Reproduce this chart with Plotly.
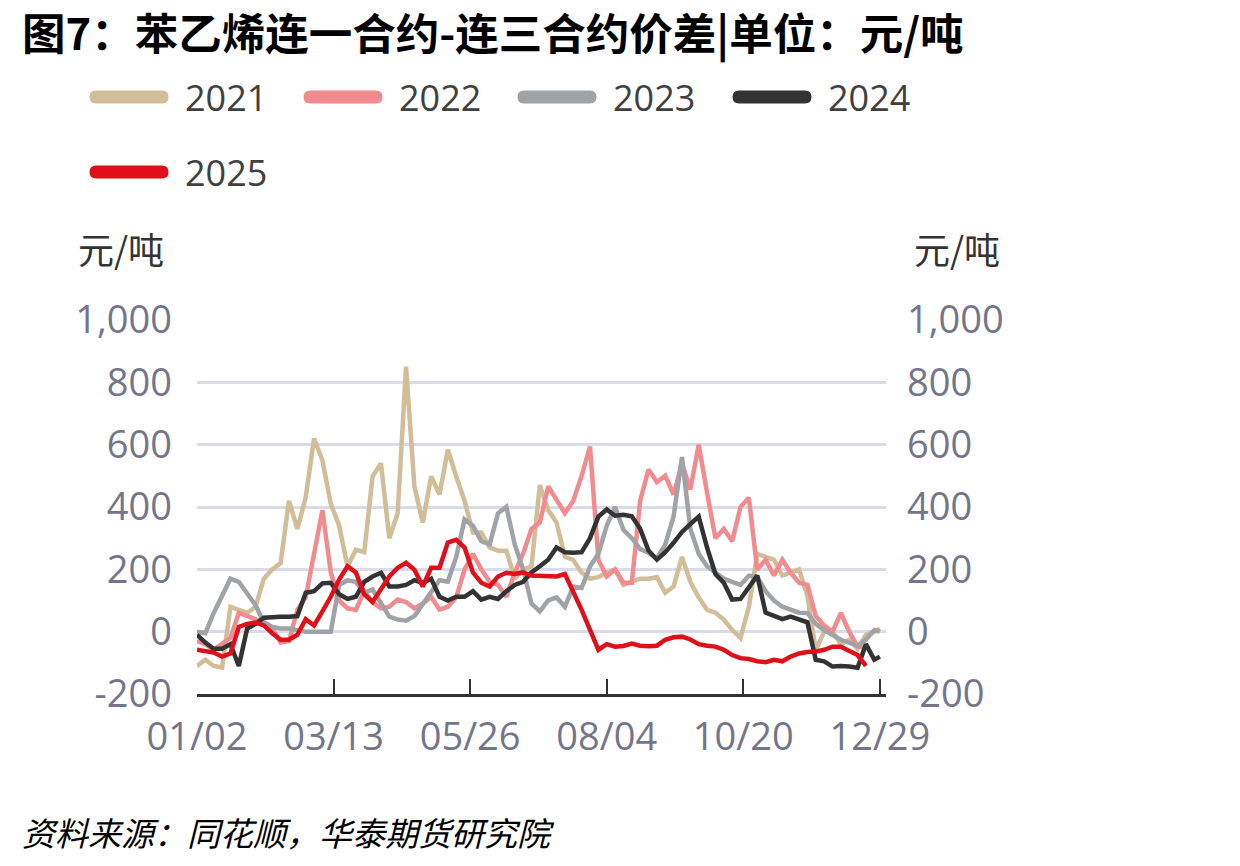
import plotly.graph_objects as go

# ---------------- data (trading-day index, value in 元/吨) ----------------
x_idx = list(range(0, 244, 3)) + [245]

tick_pos = [0, 49, 98, 147, 196, 245]
tick_text = ["01/02", "03/13", "05/26", "08/04", "10/20", "12/29"]

y_ticks = [-200, 0, 200, 400, 600, 800, 1000]
y_tick_text = ["-200", "0", "200", "400", "600", "800", "1,000"]

s2021 = [-110, -90, -110, -115, 80, 70, 60, 80, 170, 200,
         220, 420, 330, 430, 620, 550, 410, 340, 209, 263,
         255, 498, 540, 300, 380, 850, 466, 350, 498, 440,
         584, 498, 420, 318, 318, 270, 260, 260, 170, 200,
         209, 470, 390, 350, 240, 230, 189, 170, 175, 189,
         199, 150, 160, 170, 170, 175, 125, 145, 240, 160,
         110, 70, 61, 39, 6, -20, 80, 250, 240, 231,
         180, 190, 200, 115, -60, 0, 0, -40, -26, -55,
         -10, 0, 10]

s2022 = [-30, -40, -58, -40, -20, 60, 50, 39, 30, 10,
         -35, -30, 70, 110, 250, 390, 190, 100, 75, 70,
         130, 95, 75, 80, 103, 95, 75, 90, 112, 71,
         80, 110, 199, 250, 200, 160, 150, 112, 190, 250,
         330, 350, 466, 420, 380, 420, 500, 594, 231, 177,
         200, 157, 157, 420, 520, 480, 500, 440, 540, 456,
         600, 446, 300, 330, 290, 400, 430, 199, 231, 180,
         231, 189, 157, 150, 50, 20, 0, 60, 0, -48,
         -50, None, None]

s2023 = [0, -5, 60, 115, 170, 160, 120, 85, 30, 15,
         10, 10, 5, 0, 0, 0, 0, 150, 165, 160,
         125, 135, 90, 48, 39, 35, 50, 90, 125, 165,
         160, 240, 360, 340, 290, 280, 380, 400, 280, 200,
         90, 65, 100, 110, 80, 145, 140, 209, 250, 340,
         400, 327, 300, 265, 253, 235, 280, 370, 560, 330,
         250, 210, 190, 170, 160, 150, 180, 175, 130, 100,
         80, 70, 61, 60, 25, 5, -10, -26, -35, -45,
         -25, 5, 0]

s2024 = [-10, -35, -55, -55, -40, -110, 10, 25, 45, 48,
         48, 48, 50, 125, 130, 155, 157, 120, 105, 112,
         160, 177, 189, 145, 145, 150, 165, 157, 170, 112,
         100, 112, 112, 130, 103, 112, 105, 130, 150, 160,
         190, 210, 231, 270, 255, 253, 255, 300, 369, 392,
         372, 375, 370, 330, 260, 231, 255, 285, 320, 345,
         369, 270, 185, 157, 103, 105, 140, 180, 61, 50,
         40, 48, 39, 30, -90, -95, -112, -110, -112, -116,
         -40, -90, -80]

s2025 = [-58, -62, -67, -80, -70, 15, 25, 29, 20, -5,
         -26, -26, -10, 40, 20, 65, 112, 167, 210, 190,
         120, 95, 135, 177, 205, 221, 199, 145, 205, 205,
         286, 295, 270, 190, 157, 145, 177, 189, 185, 190,
         180, 178, 178, 177, 185, 130, 70, 6, -58, -40,
         -48, -46, -38, -45, -47, -45, -26, -18, -16, -25,
         -40, -45, -48, -58, -75, -85, -88, -95, -98, -90,
         -95, -80, -70, -65, -64, -58, -48, -48, -60, -75,
         -110, None, None]

names = ["2021", "2022", "2023", "2024", "2025"]
series = [s2021, s2022, s2023, s2024, s2025]
colors = ["#d1bd97", "#f28b8f", "#a0a3a6", "#333333", "#e0101a"]

title_text = "图7：苯乙烯连一合约-连三合约价差|单位：元/吨"
unit_text = "元/吨"
source_text = "资料来源：同花顺，华泰期货研究院"

# ---------------- layout geometry ----------------
W, H = 1240, 866
L, R, T, B = 197, 354, 320, 172
PW = W - L - R
PH = H - T - B


def pxx(x):
    return (x - L) / PW


def pxy(y):
    return (H - B - y) / PH


fig = go.Figure()
for nm, vals, col in zip(names, series, colors):
    fig.add_trace(go.Scatter(
        x=x_idx, y=vals, mode="lines", name=nm,
        line=dict(color=col, width=4.5),
        showlegend=False, connectgaps=False,
        yaxis="y2" if nm == "2025" else "y",
    ))

tick_font = dict(family="Open Sans", size=38, color="#75758a")

fig.update_layout(
    width=W, height=H,
    margin=dict(l=L, r=R, t=T, b=B, autoexpand=False),
    paper_bgcolor="white", plot_bgcolor="white",
    xaxis=dict(
        range=[0, 247.2], tickmode="array",
        tickvals=tick_pos + [247.2], ticktext=tick_text + [""],
        ticks="inside", ticklen=15, tickwidth=2, tickcolor="#333333",
        showline=True, linecolor="#333333", linewidth=2.5,
        showgrid=False, zeroline=False, tickfont=tick_font,
        ticklabelstandoff=8, automargin=False,
    ),
    yaxis=dict(
        range=[-200, 1000], tickmode="array", tickvals=y_ticks,
        ticktext=y_tick_text, ticks="", showline=False, zeroline=False,
        gridcolor="#d9dbe9", gridwidth=2.5, tickfont=tick_font,
        ticklabelstandoff=24, automargin=False,
    ),
    yaxis2=dict(
        range=[-200, 1000], tickmode="array", tickvals=y_ticks,
        ticktext=y_tick_text, ticks="", showline=False, zeroline=False,
        showgrid=False, overlaying="y", side="right", tickfont=tick_font,
        ticklabelstandoff=20, automargin=False,
    ),
)

annotations = []
shapes = []

annotations.append(dict(
    text="<b>" + title_text + "</b>", xref="paper", yref="paper",
    x=pxx(20), y=pxy(31), xanchor="left", yanchor="middle", showarrow=False,
    font=dict(family="Noto Sans CJK SC", size=43.5, color="#000000"),
))

# custom legend
legend_pos = [(129, 97), (343, 97), (557, 97), (772, 97), (129, 172)]
hw, hh, rr = 39.5, 6.5, 6.5
swatch_path = (f"M{-hw+rr},{-hh} L{hw-rr},{-hh} Q{hw},{-hh} {hw},0 Q{hw},{hh} {hw-rr},{hh} "
               f"L{-hw+rr},{hh} Q{-hw},{hh} {-hw},0 Q{-hw},{-hh} {-hw+rr},{-hh} Z")
for nm, col, (cx, cy) in zip(names, colors, legend_pos):
    shapes.append(dict(
        type="path", xref="paper", yref="paper", xsizemode="pixel", ysizemode="pixel",
        xanchor=pxx(cx), yanchor=pxy(cy), path=swatch_path,
        fillcolor=col, line=dict(width=0), layer="above",
    ))
    annotations.append(dict(
        text=nm, xref="paper", yref="paper", x=pxx(cx + 54), y=pxy(cy),
        xanchor="left", yanchor="middle", showarrow=False,
        font=dict(family="Open Sans", size=36, color="#404040"),
    ))

for ux in (121, 957):
    annotations.append(dict(
        text=unit_text, xref="paper", yref="paper", x=pxx(ux), y=pxy(248),
        xanchor="center", yanchor="middle", showarrow=False,
        font=dict(family="Noto Sans CJK SC", size=36, color="#333333"),
    ))

annotations.append(dict(
    text=source_text, xref="paper", yref="paper", x=pxx(20), y=pxy(832),
    xanchor="left", yanchor="middle", showarrow=False,
    font=dict(family="Noto Sans CJK SC", size=33, color="#000000", style="italic"),
))

fig.update_layout(annotations=annotations, shapes=shapes)
fig.write_html("out.html")
